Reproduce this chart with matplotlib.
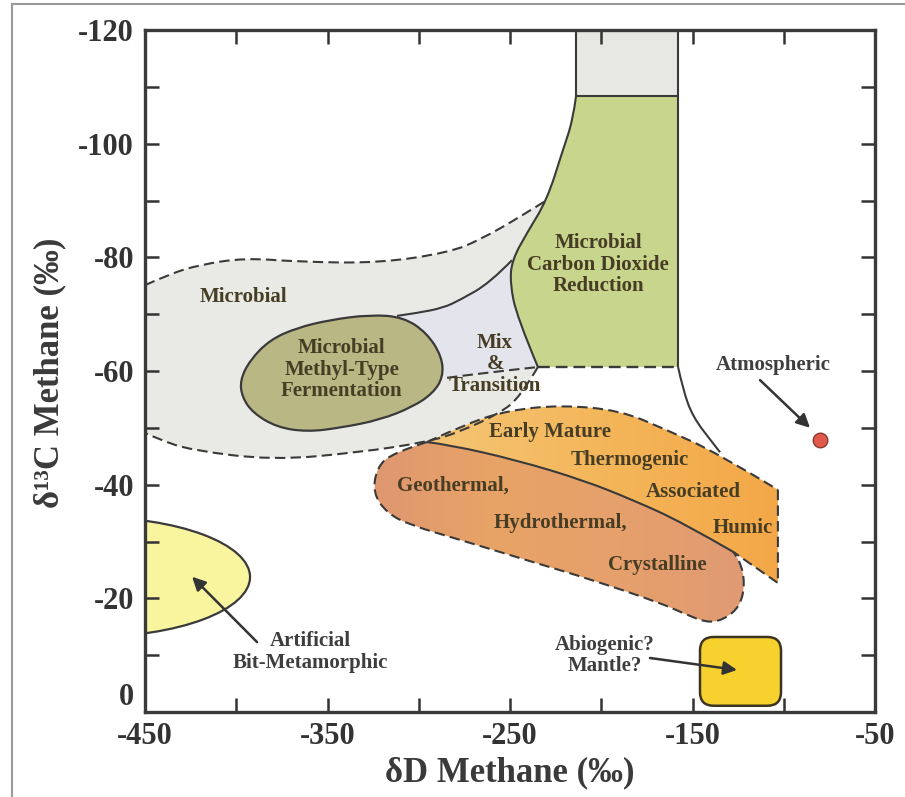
import numpy as np
import matplotlib.pyplot as plt
from matplotlib.path import Path
from matplotlib.patches import PathPatch, Ellipse, FancyBboxPatch, Rectangle
from matplotlib.colors import LinearSegmentedColormap

plt.rcParams['font.family'] = ['Liberation Serif', 'DejaVu Serif']
plt.rcParams['font.weight'] = 'bold'
plt.rcParams['axes.unicode_minus'] = False

# ---- boundaries (dD, d13C) ----
# microbial field, upper dashed edge (left -> right)
microbial_top_x = [-450, -436.3, -419.9, -395.2, -365.1, -321.2, -282.9, -266.4, -244.5, -229.7]
microbial_top_y = [-75.1, -77.1, -78.7, -79.9, -79.2, -79.0, -80.9, -83.1, -87.1, -90.1]
# microbial field, lower dashed edge (right -> left)
microbial_bot_x = [-234.7, -244.5, -255.5, -277.4, -295.5, -332.2, -379.9, -425.3, -441.8, -450]
microbial_bot_y = [-60.7, -55.4, -52.6, -49.3, -47.5, -45.7, -44.3, -46.1, -47.9, -49.1]

# CO2 reduction field, curved left edge (top -> bottom)
co2_left_x = [-213.8, -215.5, -221.0, -229.7, -240.7, -248.9, -250.0, -246.2, -234.7]
co2_left_y = [-108.4, -104.2, -98.9, -90.1, -84.3, -79.5, -75.5, -69.5, -60.7]
co2_right = -157.9
co2_top = -108.4
co2_bottom = -60.7
gray_box_x = [-213.8, -157.9]
gray_box_y = [-120, -108.4]

# curve running from CO2 field down to thermogenic field
right_curve_x = [-157.9, -155.2, -149.8, -138.8, -134.9]
right_curve_y = [-60.7, -56.7, -51.9, -47.3, -45.7]

# mix & transition
mix_div_x = [-248.9, -261.0, -277.4, -286.7, -300.9, -311.9]
mix_div_y = [-79.5, -75.5, -72.5, -71.1, -70.2, -69.7]
mix_bot_x = [-284.5, -266.4, -234.7]
mix_bot_y = [-58.8, -59.6, -60.7]

# methyl-type fermentation
methyl_x = [-397.9, -392.5, -381.5, -366.7, -348.6, -326.7, -308.6, -295.5, -287.3,
            -286.7, -292.2, -303.2, -321.2, -343.1, -361.2, -377.7, -390.8, -396.8]
methyl_y = [-58.4, -61.9, -65.5, -67.6, -69.0, -69.9, -69.5, -66.7, -62.5,
            -58.9, -56.1, -53.7, -51.4, -50.0, -49.3, -50.1, -52.6, -55.4]

# thermogenic (early mature ... humic)
thermo_top_x = [-295.5, -271.9, -250.0, -222.6, -189.8, -164.0, -136.6, -103.2]
thermo_top_y = [-47.5, -51.0, -53.1, -54.0, -53.1, -49.6, -45.6, -39.1]
thermo_right_x = [-103.2, -103.2, -127.8]
thermo_right_y = [-39.1, -22.7, -28.2]
divider_x = [-295.5, -282.9, -246.2, -210.0, -182.6, -155.2, -127.8]
divider_y = [-47.5, -47.0, -44.3, -40.8, -37.3, -33.3, -28.2]

# geothermal / hydrothermal / crystalline dashed edge
geo_x = [-295.5, -314.1, -322.9, -325.1, -317.4, -304.8, -277.4, -240.7, -204.5, -167.8,
         -155.2, -142.1, -133.3, -124.0, -121.2, -124.0, -127.8]
geo_y = [-47.5, -45.6, -43.1, -38.5, -35.0, -32.9, -30.3, -26.7, -23.2, -19.2,
         -17.4, -15.7, -16.2, -18.5, -22.7, -26.7, -28.2]

# artificial bit-metamorphic ellipse (centre, width, height)
artificial = [-480.1, -23.75, 175.3, 21.1]
# abiogenic box
abio_x = [-145.9, -101.5]
abio_y = [-13.2, -1.1]
# atmospheric point
atmos = [-80.2, -47.9]

region_text = ['Microbial', 'Microbial\nMethyl-Type\nFermentation', 'Microbial\nCarbon Dioxide\nReduction',
               'Mix\n&\nTransition', 'Early Mature', 'Thermogenic', 'Associated', 'Humic',
               'Geothermal,', 'Hydrothermal,', 'Crystalline']
region_x = [-395.8, -342.1, -201.8, -258.2, -228.1, -184.3, -149.8, -122.4, -281.2, -222.6, -169.5]
region_y = [-73.0, -60.2, -78.7, -61.2, -49.3, -44.3, -38.7, -32.4, -39.9, -33.3, -25.9]

annot_text = ['Atmospheric', 'Artificial\nBit-Metamorphic', 'Abiogenic?\nMantle?']
annot_pos = [(-105.9, -61.1), (-359.6, -10.6), (-198.0, -9.9)]
arrow_tail = [(-113.0, -58.4), (-388.6, -12.3), (-173.3, -9.5)]
arrow_head = [(-85.6, -50.0), (-424.2, -23.8), (-125.6, -7.4)]

x_ticks = [-450, -400, -350, -300, -250, -200, -150, -100, -50]
x_tick_labels = ['-450', '', '-350', '', '-250', '', '-150', '', '-50']
y_ticks = [0, -10, -20, -30, -40, -50, -60, -70, -80, -90, -100, -110, -120]
y_tick_labels = ['0', '', '-20', '', '-40', '', '-60', '', '-80', '', '-100', '', '-120']

LINE = '#3a3a3a'
DASH = (0, (5, 2.5))


def curve_segs(xs, ys):
    pts = np.column_stack([xs, ys])
    if len(pts) == 2:
        return [pts[1]], [Path.LINETO]
    verts, codes = [], []
    for i in range(1, len(pts) - 1):
        end = pts[i + 1] if i == len(pts) - 2 else (pts[i] + pts[i + 1]) / 2
        verts += [pts[i], end]
        codes += [Path.CURVE3, Path.CURVE3]
    return verts, codes


def build_path(pieces, closed=True):
    x0, y0 = pieces[0][0][0], pieces[0][1][0]
    verts, codes = [(x0, y0)], [Path.MOVETO]
    for xs, ys in pieces:
        v, c = curve_segs(xs, ys)
        verts += [tuple(p) for p in v]
        codes += c
    if closed:
        verts.append((x0, y0))
        codes.append(Path.CLOSEPOLY)
    return Path(verts, codes)


def closed_smooth(xs, ys):
    pts = np.column_stack([xs, ys])
    mids = (pts + np.roll(pts, -1, axis=0)) / 2
    verts, codes = [mids[-1]], [Path.MOVETO]
    for i in range(len(pts)):
        verts += [pts[i], mids[i]]
        codes += [Path.CURVE3, Path.CURVE3]
    verts.append(mids[-1])
    codes.append(Path.CLOSEPOLY)
    return Path(verts, codes)


def line(pieces, ls='-', lw=1.5, z=3):
    ax.add_patch(PathPatch(build_path(pieces, closed=False), fill=False, ec=LINE, lw=lw, ls=ls, zorder=z))


fig = plt.figure(figsize=(9.05, 7.97), dpi=100)
ax = fig.add_axes([145 / 905, 1 - 712 / 797, 730 / 905, 682 / 797])

# microbial field
p_micro = build_path([(microbial_top_x, microbial_top_y),
                      (co2_left_x[3:], co2_left_y[3:]),
                      (microbial_bot_x, microbial_bot_y)])
ax.add_patch(PathPatch(p_micro, fc='#e9eae5', ec='none', zorder=1))

# mix & transition
p_mix = build_path([(mix_div_x, mix_div_y),
                    ([mix_div_x[-1], mix_bot_x[0]], [mix_div_y[-1], mix_bot_y[0]]),
                    (mix_bot_x, mix_bot_y),
                    (co2_left_x[8:4:-1], co2_left_y[8:4:-1])])
ax.add_patch(PathPatch(p_mix, fc='#e4e5ec', ec='none', zorder=1.1))

# CO2 reduction + gray cap
ax.add_patch(Rectangle((gray_box_x[0], gray_box_y[0]), gray_box_x[1] - gray_box_x[0],
                       gray_box_y[1] - gray_box_y[0], fc='#e7e7e4', ec='none', zorder=1.2))
p_co2 = build_path([(co2_left_x, co2_left_y),
                    ([co2_left_x[-1], co2_right], [co2_bottom, co2_bottom]),
                    ([co2_right, co2_right], [co2_bottom, co2_top])])
ax.add_patch(PathPatch(p_co2, fc='#c8d58d', ec='none', zorder=1.2))

# thermogenic (gradient)
p_thermo = build_path([(thermo_top_x, thermo_top_y),
                       (thermo_right_x[:2], thermo_right_y[:2]),
                       (thermo_right_x[1:], thermo_right_y[1:]),
                       (divider_x[::-1], divider_y[::-1])])
patch_t = PathPatch(p_thermo, fc='none', ec='none', zorder=1.3)
ax.add_patch(patch_t)
cm_t = LinearSegmentedColormap.from_list('t', ['#f5c676', '#f4b65a', '#f3a747'])
im = ax.imshow(np.linspace(0, 1, 256).reshape(1, -1), cmap=cm_t, aspect='auto',
               extent=(-300, -100, -20, -56), zorder=1.3, interpolation='bilinear')
im.set_clip_path(patch_t)

# geothermal (gradient)
p_geo = build_path([(geo_x, geo_y), (divider_x[::-1], divider_y[::-1])])
patch_g = PathPatch(p_geo, fc='none', ec='none', zorder=1.4)
ax.add_patch(patch_g)
cm_g = LinearSegmentedColormap.from_list('g', ['#de9671', '#e8a366', '#e6a06c', '#e09a74'])
im2 = ax.imshow(np.linspace(0, 1, 256).reshape(1, -1), cmap=cm_g, aspect='auto',
                extent=(-330, -118, -12, -50), zorder=1.4, interpolation='bilinear')
im2.set_clip_path(patch_g)

# methyl-type fermentation
ax.add_patch(PathPatch(closed_smooth(methyl_x, methyl_y), fc='#b9b784', ec=LINE, lw=1.6, zorder=1.5))

# artificial, abiogenic, atmospheric
ax.add_patch(Ellipse((artificial[0], artificial[1]), artificial[2], artificial[3],
                     fc='#f9f59f', ec=LINE, lw=1.6, zorder=1.5))
ax.add_patch(FancyBboxPatch((abio_x[0], abio_y[0]), abio_x[1] - abio_x[0], abio_y[1] - abio_y[0],
                            boxstyle='round,pad=0,rounding_size=7.5', mutation_aspect=0.321,
                            fc='#f7d22f', ec='#3d3520', lw=1.8, zorder=1.5))
ax.scatter([atmos[0]], [atmos[1]], s=110, c='#e05a4c', edgecolors='#8a3a30', linewidths=1.0, zorder=4)

# solid outlines
line([(co2_left_x, co2_left_y)])
line([([gray_box_x[0], gray_box_x[0]], [gray_box_y[0], gray_box_y[1]])])
line([([gray_box_x[0], co2_right], [co2_top, co2_top])])
line([([co2_right, co2_right], [gray_box_y[0], co2_bottom])])
line([(right_curve_x, right_curve_y)])
line([(mix_div_x, mix_div_y)])
line([(divider_x, divider_y)])

# dashed outlines
line([(microbial_top_x, microbial_top_y)], ls=DASH)
line([(microbial_bot_x, microbial_bot_y)], ls=DASH)
line([(mix_bot_x, mix_bot_y)], ls=DASH)
line([([co2_left_x[-1], co2_right], [co2_bottom, co2_bottom])], ls=DASH, lw=1.7)
line([(thermo_top_x, thermo_top_y)], ls=DASH)
line([(thermo_right_x[:2], thermo_right_y[:2]), (thermo_right_x[1:], thermo_right_y[1:])], ls=DASH)
line([(geo_x, geo_y)], ls=DASH)

# labels
for t, x, y in zip(region_text, region_x, region_y):
    ax.text(x, y, t, ha='center', va='center', fontsize=15, fontweight='bold',
            color='#463d24', linespacing=1.1, zorder=5)
for t, pos, tail, head in zip(annot_text, annot_pos, arrow_tail, arrow_head):
    ax.text(pos[0], pos[1], t, ha='center', va='center', fontsize=15, fontweight='bold',
            color='#3e3e3e', linespacing=1.1, zorder=5)
    ax.annotate('', xy=head, xytext=tail,
                arrowprops=dict(arrowstyle='-|>', color='#333333', lw=1.8, mutation_scale=20,
                                shrinkA=0, shrinkB=0), zorder=5)

ax.set_xlim(-450, -50)
ax.set_ylim(0, -120)
ax.set_xticks(x_ticks)
ax.set_xticklabels(x_tick_labels)
ax.set_yticks(y_ticks)
ax.set_yticklabels(y_tick_labels)
ax.tick_params(direction='in', length=10, width=1.8, top=True, right=True,
               labelsize=22, colors='#333333')
ax.tick_params(axis='x', pad=7)
ax.tick_params(axis='y', pad=8)
for lab in ax.get_xticklabels() + ax.get_yticklabels():
    lab.set_fontweight('bold')
# the "0" sits just above the corner, clear of "-450"
ax.get_yticklabels()[0].set_verticalalignment('bottom')
for s in ax.spines.values():
    s.set_linewidth(2.4)
    s.set_color('#3a3a3a')

fig.text(510 / 905, 1 - 773 / 797, 'δD Methane (‰)', ha='center', va='center',
         fontsize=25, fontweight='bold', color='#3a3a3a')
fig.text(50 / 905, 1 - 373 / 797, 'δ¹³C Methane (‰)', ha='center', va='center', rotation=90,
         fontsize=25, fontweight='bold', color='#3a3a3a')

fig.patches.append(Rectangle((12 / 905, -0.05), 1.2, 1.05 - 4 / 797, transform=fig.transFigure,
                             fill=False, ec='#9a9a9a', lw=1.5))

fig.savefig('out.png', dpi=100)
